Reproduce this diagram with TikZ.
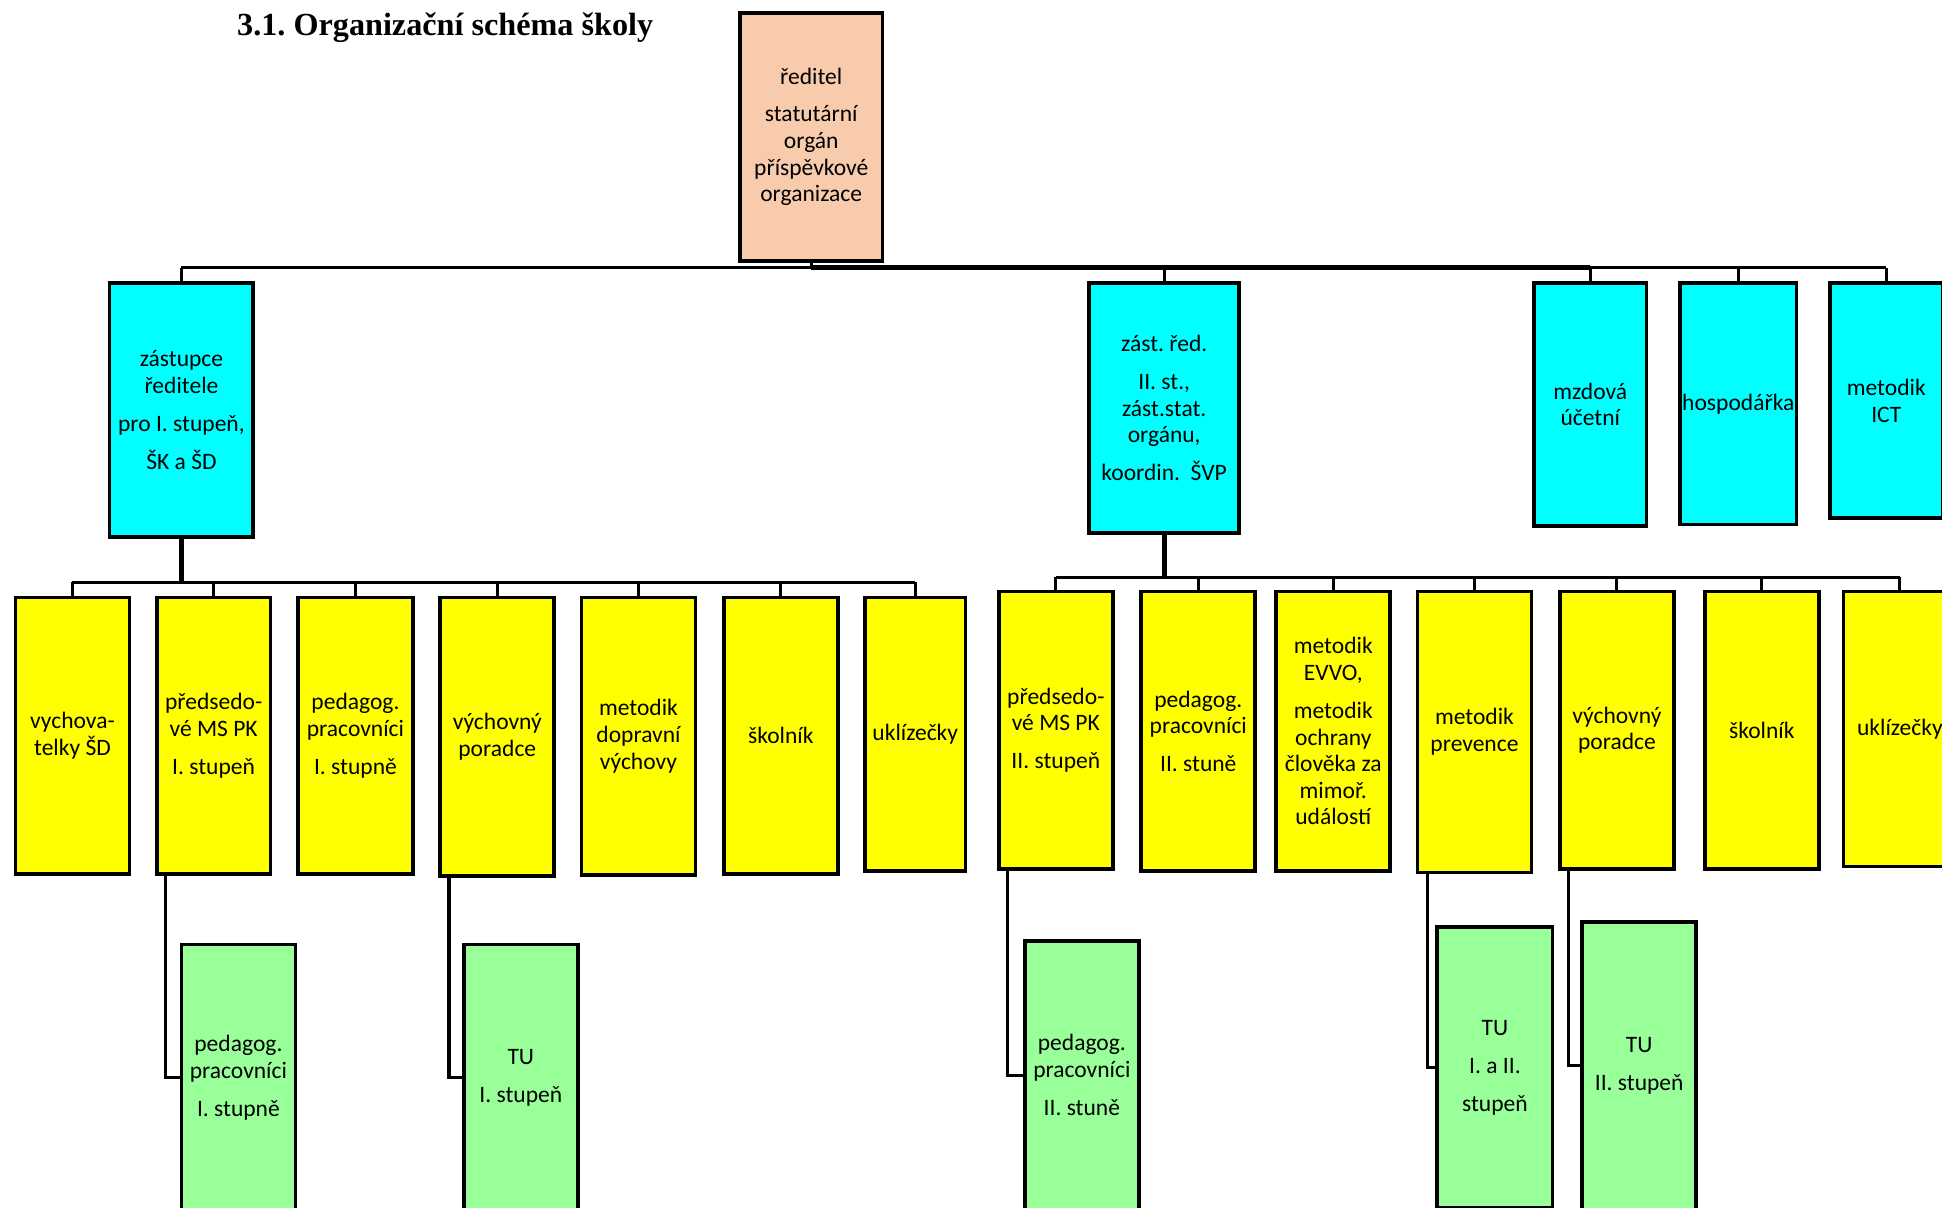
\documentclass[tikz,border=0pt]{standalone}
\usepackage{fontspec}
\setmainfont{Carlito}
\newfontfamily\titlefam{Liberation Serif}
\frenchspacing
\definecolor{peach}{HTML}{F8CBAD}
\definecolor{cyanbox}{HTML}{00FFFF}
\definecolor{yelbox}{HTML}{FFFF00}
\definecolor{grnbox}{HTML}{99FF99}
\tikzset{
  box/.style={draw=black, line width=3pt, inner sep=0pt, align=center,
    font=\fontsize{19}{21.5}\selectfont},
  redbox/.style={box, fill=peach},
  cbox/.style={box, fill=cyanbox},
  ybox/.style={box, fill=yelbox},
  gbox/.style={box, fill=grnbox},
  thinline/.style={line width=2.5pt},
  thickline/.style={line width=4pt},
}
\begin{document}
\begin{tikzpicture}[x=1pt,y=-1pt]
\useasboundingbox (0,0) rectangle (1568,975);
\clip (0,0) rectangle (1568,975);
\fill[white] (0,0) rectangle (1568,975);

\node[anchor=base west, font={\titlefam\bfseries\fontsize{26}{30}\selectfont}] (title) at (188,29) {3.1. Organizační schéma školy};

% level 1
\node[redbox, minimum width=115, minimum height=200] (red) at (655,110.5)
  {ředitel\\[9pt] statutární\\ orgán\\ příspěvkové\\ organizace};

% level 2
\node[cbox, minimum width=116, minimum height=205] (zast1) at (146.5,331)
  {zástupce\\ ředitele\\[9pt] pro I. stupeň,\\[9pt] ŠK a ŠD};
\node[cbox, minimum width=121, minimum height=202] (zast2) at (940,329.5)
  {zást. řed.\\[9pt] II. st.,\\ zást.stat.\\ orgánu,\\[9pt] koordin.\ \ ŠVP};
\node[cbox, minimum width=91, minimum height=196] (mzd) at (1284,326.5)
  {mzdová\\ účetní};
\node[cbox, minimum width=94, minimum height=195] (hosp) at (1403.5,326)
  {hospodářka};
\node[cbox, minimum width=91, minimum height=190] (ict) at (1523,323.5)
  {metodik\\ ICT};

% level 3 left
\node[ybox, minimum width=92, minimum height=223] (vych) at (58.5,594)
  {vychova-\\ telky ŠD};
\node[ybox, minimum width=92, minimum height=223] (pk1) at (172.5,594)
  {předsedo-\\ vé MS PK\\[9pt] I. stupeň};
\node[ybox, minimum width=93, minimum height=223] (ped1) at (287,594)
  {pedagog.\\ pracovníci\\[9pt] I. stupně};
\node[ybox, minimum width=92, minimum height=225] (vp1) at (401.5,595)
  {výchovný\\ poradce};
\node[ybox, minimum width=92, minimum height=224] (dop) at (515.5,594.5)
  {metodik\\ dopravní\\ výchovy};
\node[ybox, minimum width=92, minimum height=223] (skol1) at (630.5,594)
  {školník};
\node[ybox, minimum width=81, minimum height=221] (ukl1) at (739,593)
  {uklízečky};

% level 3 right
\node[ybox, minimum width=92, minimum height=224] (pk2) at (852.5,589.5)
  {předsedo-\\ vé MS PK\\[9pt] II. stupeň};
\node[ybox, minimum width=92, minimum height=226] (ped2) at (967.5,590.5)
  {pedagog.\\ pracovníci\\[9pt] II. stuně};
\node[ybox, minimum width=92, minimum height=226] (evvo) at (1076.5,590.5)
  {metodik\\ EVVO,\\[9pt] metodik\\ ochrany\\ člověka za\\ mimoř.\\ událostí};
\node[ybox, minimum width=92, minimum height=227] (prev) at (1190.5,591)
  {metodik\\ prevence};
\node[ybox, minimum width=92, minimum height=224] (vp2) at (1305.5,589.5)
  {výchovný\\ poradce};
\node[ybox, minimum width=92, minimum height=224] (skol2) at (1422.5,589.5)
  {školník};
\node[ybox, minimum width=91, minimum height=222] (ukl2) at (1534,588.5)
  {uklízečky};

% level 4
\node[gbox, minimum width=92, minimum height=215] (g1) at (192.5,870)
  {pedagog.\\ pracovníci\\[9pt] I. stupně};
\node[gbox, minimum width=92, minimum height=215] (g2) at (420.5,870)
  {TU\\[9pt] I. stupeň};
\node[gbox, minimum width=92, minimum height=217] (g3) at (873.5,868)
  {pedagog.\\ pracovníci\\[9pt] II. stuně};
\node[gbox, minimum width=93, minimum height=227] (g4) at (1207,862)
  {TU\\[9pt] I. a II.\\[9pt] stupeň};
\node[gbox, minimum width=92, minimum height=232] (g5) at (1323.5,860.5)
  {TU\\[9pt] II. stupeň};

% buses
\coordinate (busT) at (0,216);
\coordinate (busA) at (0,470);
\coordinate (busB) at (0,466);

\draw[thinline] (red.south) -- (red.south |- busT);
\draw[thinline] (zast1.north |- busT) -- (red.south |- busT);
\draw[thickline] (red.south |- busT) -- (mzd.north |- busT);
\draw[thinline] (mzd.north |- busT) -- (ict.north |- busT);
\foreach \n in {zast1,zast2,mzd,hosp,ict}
  \draw[thinline] (\n.north) -- (\n.north |- busT);

\draw[thickline] (zast1.south) -- (zast1.south |- busA);
\draw[thinline] (vych.north |- busA) -- (ukl1.north |- busA);
\foreach \n in {vych,pk1,ped1,vp1,dop,skol1,ukl1}
  \draw[thinline] (\n.north) -- (\n.north |- busA);

\draw[thickline] (zast2.south) -- (zast2.south |- busB);
\draw[thinline] (pk2.north |- busB) -- (ukl2.north |- busB);
\foreach \n in {pk2,ped2,evvo,prev,vp2,skol2,ukl2}
  \draw[thinline] (\n.north) -- (\n.north |- busB);

% elbows to level 4
\draw[thinline] ([xshift=8.5pt]pk1.south west) |- (g1.west);
\draw[thinline] ([xshift=8.5pt]vp1.south west) |- (g2.west);
\draw[thinline] ([xshift=8.5pt]pk2.south west) |- (g3.west);
\draw[thinline] ([xshift=9.5pt]prev.south west) |- (g4.west);
\draw[thinline] ([xshift=8.5pt]vp2.south west) |- (g5.west);
\end{tikzpicture}
\end{document}
